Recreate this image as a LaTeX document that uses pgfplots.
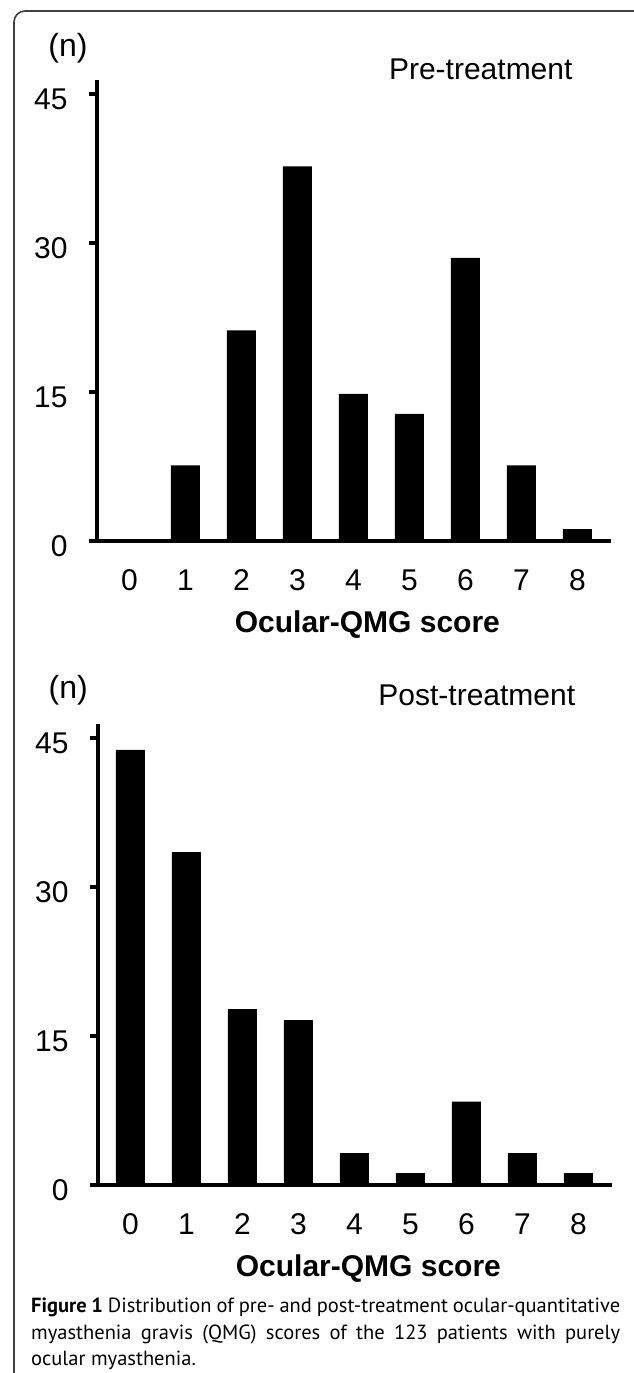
\documentclass[border=0pt]{standalone}
\usepackage{fontspec}
\setmainfont{Liberation Sans}
\newfontfamily\capfont{PT Sans}
\usepackage{pgfplots}
\usepackage{pgfplotstable}
\pgfplotsset{compat=1.18}

\pgfplotstableread{
x y
0 0
1 7.6
2 21.2
3 37.7
4 14.8
5 12.8
6 28.5
7 7.6
8 1.2
}\pre
\pgfplotstableread{
x y
0 43.8
1 33.5
2 17.7
3 16.6
4 3.2
5 1.2
6 8.4
7 3.2
8 1.2
}\post

\newcommand\cf{\fontsize{30}{32}\selectfont}
\pgfplotsset{qmg/.style={
  scale only axis, width=514pt, height=461pt,
  xmin=-0.58, xmax=8.6, ymin=0, ymax=46.4,
  axis x line=bottom, axis y line=left,
  x axis line style={-, line width=3.5pt, black, shorten <=-8pt},
  y axis line style={-, line width=3.5pt, black},
  ybar, bar width=29pt,
  xtick={0,...,8}, ytick={0,15,30,45},
  tick align=outside,
  xtick style={draw=none},
  ytick style={line width=3.5pt, black},
  major tick length=8pt,
  ticklabel style={font=\cf},
  /pgf/number format/assume math mode=true,
  yticklabel style={xshift=-18pt, yshift=-5pt},
  xticklabel style={yshift=-17pt},
  xlabel={\bfseries Ocular-QMG score},
  xlabel style={font=\cf, at={(axis description cs:0.526,0)}, anchor=base, yshift=-91pt},
  ylabel={(n)},
  ylabel style={rotate=-90, font=\fontsize{32}{34}\selectfont, anchor=center},
  title style={font=\cf, anchor=base},
  clip=false,
}}

\begin{document}
\begin{tikzpicture}
\useasboundingbox (0pt,0pt) rectangle (633pt,-1373pt);
\draw[black!75, line width=1.6pt] (14pt,-1380pt) -- (14pt,-22pt) arc[start angle=180, end angle=90, radius=11pt] -- (650pt,-11pt);

\begin{axis}[qmg, at={(97pt,-541pt)}, anchor=south west,
  title={Pre-treatment},
  title style={at={(axis description cs:0.7466,0.989)}},
  ylabel style={at={(axis description cs:-0.0565,1.069)}}]
\addplot[fill=black, draw=none] table[x=x, y=y] {\pre};
\end{axis}

\begin{axis}[qmg, at={(98pt,-1185pt)}, anchor=south west,
  title={Post-treatment},
  title style={at={(axis description cs:0.737,1.028)}},
  ylabel style={at={(axis description cs:-0.058,1.074)}}]
\addplot[fill=black, draw=none] table[x=x, y=y] {\post};
\end{axis}

\begin{scope}[capfont/.style={font=\capfont\fontsize{20.5}{27}\selectfont, inner sep=0pt, anchor=base west}]
\node[capfont] at (31pt,-1312pt) {\makebox[589pt][s]{\textbf{Figure 1} Distribution of pre- and post-treatment ocular-quantitative}};
\node[capfont] at (31pt,-1339pt) {\makebox[589pt][s]{myasthenia gravis (QMG) scores of the 123 patients with purely}};
\node[capfont] at (31pt,-1365pt) {ocular myasthenia.};
\end{scope}
\end{tikzpicture}
\end{document}
